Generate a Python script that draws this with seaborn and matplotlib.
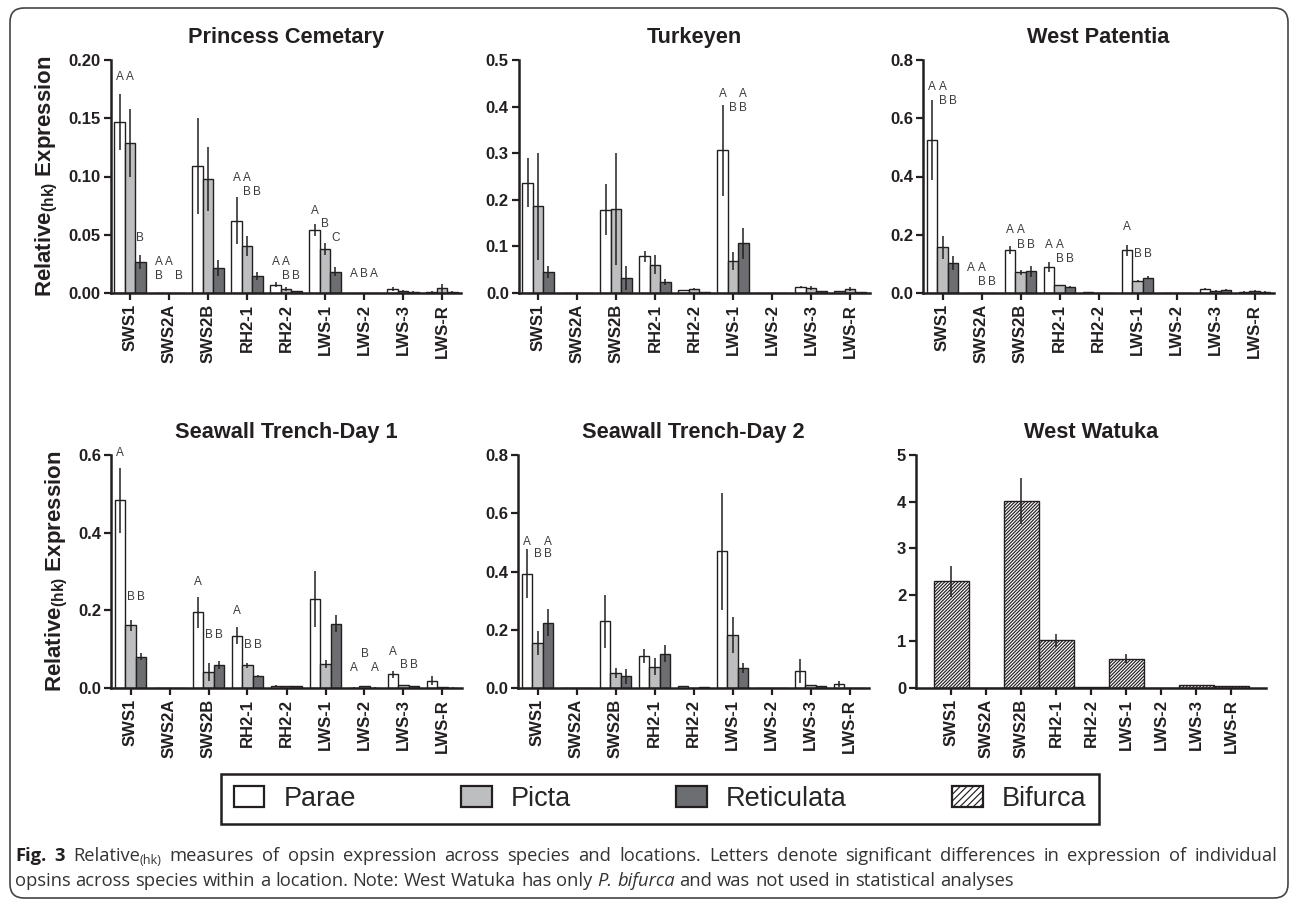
import numpy as np
import pandas as pd
import seaborn as sns
import matplotlib.pyplot as plt
from matplotlib.patches import Patch, FancyBboxPatch
from matplotlib.transforms import IdentityTransform

genes = ["SWS1", "SWS2A", "SWS2B", "RH2-1", "RH2-2", "LWS-1", "LWS-2", "LWS-3", "LWS-R"]
species = ["Parae", "Picta", "Reticulata"]

# rows: Parae, Picta, Reticulata  (mean and SE)
princess_mean = [
    [0.147, 0.0, 0.109, 0.062, 0.0071, 0.054, 0.0003, 0.0034, 0.0012],
    [0.129, 0.0, 0.098, 0.040, 0.0034, 0.0377, 0.0003, 0.0020, 0.0040],
    [0.0266, 0.0, 0.0217, 0.0143, 0.0014, 0.0183, 0.0003, 0.0009, 0.0010],
]
princess_err = [
    [0.024, 0.0, 0.041, 0.020, 0.0023, 0.005, 0.0, 0.0015, 0.0005],
    [0.029, 0.0, 0.0275, 0.0086, 0.0017, 0.005, 0.0, 0.0010, 0.0037],
    [0.0057, 0.0, 0.0069, 0.0035, 0.0005, 0.004, 0.0, 0.0005, 0.0005],
]
turkeyen_mean = [
    [0.237, 0.0, 0.179, 0.079, 0.0057, 0.306, 0.0, 0.012, 0.0035],
    [0.186, 0.0, 0.180, 0.061, 0.0086, 0.068, 0.0, 0.011, 0.0086],
    [0.045, 0.0, 0.032, 0.023, 0.0015, 0.107, 0.0, 0.0035, 0.0014],
]
turkeyen_err = [
    [0.053, 0.0, 0.055, 0.012, 0.001, 0.097, 0.0, 0.002, 0.001],
    [0.115, 0.0, 0.120, 0.020, 0.003, 0.019, 0.0, 0.004, 0.004],
    [0.013, 0.0, 0.025, 0.006, 0.0005, 0.033, 0.0, 0.001, 0.0005],
]
patentia_mean = [
    [0.525, 0.0, 0.149, 0.089, 0.002, 0.146, 0.0, 0.0137, 0.0046],
    [0.157, 0.0, 0.071, 0.026, 0.0, 0.042, 0.0, 0.008, 0.0069],
    [0.103, 0.0, 0.074, 0.0206, 0.0, 0.0526, 0.0, 0.010, 0.0046],
]
patentia_err = [
    [0.136, 0.0, 0.014, 0.018, 0.0005, 0.018, 0.0, 0.002, 0.001],
    [0.040, 0.0, 0.008, 0.002, 0.0, 0.004, 0.0, 0.001, 0.002],
    [0.025, 0.0, 0.019, 0.003, 0.0, 0.005, 0.0, 0.003, 0.001],
]
day1_mean = [
    [0.483, 0.0, 0.195, 0.135, 0.006, 0.229, 0.001, 0.036, 0.019],
    [0.161, 0.0, 0.041, 0.058, 0.005, 0.062, 0.004, 0.007, 0.002],
    [0.081, 0.0, 0.060, 0.032, 0.004, 0.165, 0.001, 0.005, 0.001],
]
day1_err = [
    [0.083, 0.0, 0.040, 0.021, 0.001, 0.072, 0.0005, 0.009, 0.012],
    [0.015, 0.0, 0.023, 0.006, 0.001, 0.010, 0.002, 0.001, 0.001],
    [0.010, 0.0, 0.010, 0.002, 0.001, 0.022, 0.0005, 0.001, 0.0005],
]
day2_mean = [
    [0.393, 0.0, 0.229, 0.111, 0.0057, 0.469, 0.0, 0.059, 0.0137],
    [0.155, 0.0, 0.051, 0.073, 0.001, 0.182, 0.0, 0.010, 0.001],
    [0.224, 0.0, 0.040, 0.117, 0.002, 0.069, 0.0, 0.0057, 0.0005],
]
day2_err = [
    [0.085, 0.0, 0.092, 0.024, 0.001, 0.202, 0.0, 0.041, 0.009],
    [0.042, 0.0, 0.018, 0.030, 0.0005, 0.062, 0.0, 0.002, 0.0005],
    [0.047, 0.0, 0.025, 0.029, 0.0005, 0.017, 0.0, 0.001, 0.0003],
]
bifurca_mean = [2.29, 0.0, 4.02, 1.02, 0.02, 0.63, 0.0, 0.057, 0.036]
bifurca_err = [0.33, 0.0, 0.49, 0.14, 0.005, 0.10, 0.0, 0.01, 0.005]

# significance letters: (gene, one char per species, height)
princess_letters = [
    ("SWS1", "AA ", 0.185), ("SWS1", "  B", 0.047),
    ("SWS2A", "AA ", 0.0266), ("SWS2A", "B B", 0.015),
    ("RH2-1", "AA ", 0.0986), ("RH2-1", " BB", 0.0866),
    ("RH2-2", "AA ", 0.0266), ("RH2-2", " BB", 0.015),
    ("LWS-1", "A  ", 0.0706), ("LWS-1", " B ", 0.0594), ("LWS-1", "  C", 0.047),
    ("LWS-2", "ABA", 0.0166),
]
turkeyen_letters = [("LWS-1", "A A", 0.426), ("LWS-1", " BB", 0.396)]
patentia_letters = [
    ("SWS1", "AA ", 0.706), ("SWS1", " BB", 0.659),
    ("SWS2A", "AA ", 0.0846), ("SWS2A", " BB", 0.0366),
    ("SWS2B", "AA ", 0.215), ("SWS2B", " BB", 0.166),
    ("RH2-1", "AA ", 0.166), ("RH2-1", " BB", 0.118),
    ("LWS-1", "A  ", 0.226), ("LWS-1", " BB", 0.135),
]
day1_letters = [
    ("SWS1", "A  ", 0.606), ("SWS1", " BB", 0.234),
    ("SWS2B", "A  ", 0.272), ("SWS2B", " BB", 0.137),
    ("RH2-1", "A  ", 0.197), ("RH2-1", " BB", 0.111),
    ("LWS-2", " B ", 0.088), ("LWS-2", "A A", 0.051),
    ("LWS-3", "A  ", 0.0926), ("LWS-3", " BB", 0.060),
]
day2_letters = [("SWS1", "A A", 0.503), ("SWS1", " BB", 0.460)]

sns.set_theme(style="ticks")
plt.rcParams["font.family"] = ["Liberation Sans", "DejaVu Sans"]
plt.rcParams["mathtext.fontset"] = "custom"
plt.rcParams["mathtext.rm"] = "Liberation Sans"
plt.rcParams["mathtext.bf"] = "Liberation Sans:bold"
plt.rcParams["hatch.linewidth"] = 0.85

INK = "#231f20"
palette = {"Parae": "white", "Picta": "#bcbec0", "Reticulata": "#6d6e71"}
HATCH = "//////////"

W, H = 1292, 899
fig = plt.figure(figsize=(W / 100, H / 100), dpi=100)


def px_axes(left, right, top, bottom):
    return fig.add_axes([left / W, 1 - bottom / H, (right - left) / W, (bottom - top) / H])


def style_axes(ax, title, ymax, step, fmt):
    ticks = np.arange(0, ymax + step / 2, step)
    ax.set_ylim(0, ymax)
    ax.set_yticks(ticks)
    ax.set_yticklabels([fmt.format(t) for t in ticks])
    ax.set_title(title, fontsize=15.7, fontweight="bold", color=INK, pad=12)
    ax.set_xlabel("")
    ax.set_ylabel("")
    sns.despine(ax=ax)
    for s in ("left", "bottom"):
        ax.spines[s].set_linewidth(1.8)
        ax.spines[s].set_color(INK)
    ax.tick_params(axis="both", direction="out", length=5, width=1.6, colors=INK)
    ax.tick_params(axis="x", labelrotation=90, labelsize=12, pad=3)
    ax.tick_params(axis="y", labelsize=12, pad=2)
    for lab in ax.get_xticklabels() + ax.get_yticklabels():
        lab.set_fontweight("bold")


def species_panel(ax, means, errs, letters):
    df = pd.DataFrame({
        "gene": np.tile(genes, len(species)),
        "species": np.repeat(species, len(genes)),
        "value": np.concatenate(means),
    })
    sns.barplot(data=df, x="gene", y="value", hue="species", order=genes,
                hue_order=species, palette=palette, saturation=1, errorbar=None,
                width=0.8, edgecolor=INK, linewidth=1.0, legend=False, ax=ax, zorder=2)
    centers = [[b.get_x() + b.get_width() / 2 for b in cont] for cont in ax.containers[:3]]
    for si in range(len(species)):
        ax.errorbar(centers[si], means[si], yerr=errs[si], fmt="none", ecolor=INK,
                    elinewidth=1.1, capsize=0, zorder=3)
    for gene, row, y in letters:
        gi = genes.index(gene)
        for si, ch in enumerate(row):
            if ch != " ":
                ax.text(centers[si][gi], y, ch, ha="center", va="center",
                        fontsize=8.5, color="#3a3a3a", clip_on=False)
    ax.set_xlim(-0.5, len(genes) - 0.5)


ylab = r"Relative$_{\mathbf{(hk)}}$ Expression"

ax1 = px_axes(110.5, 461.5, 60, 293)
species_panel(ax1, princess_mean, princess_err, princess_letters)
style_axes(ax1, "Princess Cemetary", 0.20, 0.05, "{:.2f}")
ax1.set_ylabel(ylab, fontsize=16, fontweight="bold", color=INK, labelpad=6)

ax2 = px_axes(518.5, 869.5, 60, 293)
species_panel(ax2, turkeyen_mean, turkeyen_err, turkeyen_letters)
style_axes(ax2, "Turkeyen", 0.5, 0.1, "{:.1f}")

ax3 = px_axes(923, 1274, 60, 293)
species_panel(ax3, patentia_mean, patentia_err, patentia_letters)
style_axes(ax3, "West Patentia", 0.8, 0.2, "{:.1f}")

ax4 = px_axes(111, 462, 455, 688)
species_panel(ax4, day1_mean, day1_err, day1_letters)
style_axes(ax4, "Seawall Trench-Day 1", 0.6, 0.2, "{:.1f}")
ax4.set_ylabel(ylab, fontsize=16, fontweight="bold", color=INK, labelpad=6)

ax5 = px_axes(518, 869, 455, 688)
species_panel(ax5, day2_mean, day2_err, day2_letters)
style_axes(ax5, "Seawall Trench-Day 2", 0.8, 0.2, "{:.1f}")

ax6 = px_axes(916, 1266, 455, 688)
df6 = pd.DataFrame({"gene": genes, "value": bifurca_mean})
sns.barplot(data=df6, x="gene", y="value", order=genes, color="white", saturation=1,
            errorbar=None, width=1.0, edgecolor=INK, linewidth=1.0, hatch=HATCH,
            ax=ax6, zorder=2)
c6 = [b.get_x() + b.get_width() / 2 for b in ax6.containers[0]]
ax6.errorbar(c6, bifurca_mean, yerr=bifurca_err, fmt="none", ecolor=INK,
             elinewidth=1.1, capsize=0, zorder=3)
ax6.set_xlim(-1, len(genes))
style_axes(ax6, "West Watuka", 5, 1, "{:.0f}")

# legend
handles = [
    Patch(facecolor="white", edgecolor=INK, linewidth=1.6),
    Patch(facecolor=palette["Picta"], edgecolor=INK, linewidth=1.6),
    Patch(facecolor=palette["Reticulata"], edgecolor=INK, linewidth=1.6),
    Patch(facecolor="white", edgecolor=INK, linewidth=1.6, hatch="/////"),
]
leg = fig.legend(handles, ["Parae", "Picta", "Reticulata", "Bifurca"], loc="center",
                 bbox_to_anchor=(660 / W, 1 - 799 / H), ncol=4, frameon=True,
                 fancybox=False, edgecolor=INK, framealpha=1,
                 prop={"family": "Liberation Sans", "size": 19.5},
                 handlelength=1.14, handleheight=0.77, columnspacing=3.88,
                 borderpad=0.45, handletextpad=0.7)
leg.get_frame().set_linewidth(1.8)

# outer rounded frame
frame = FancyBboxPatch((10, 1), 1278, 890, boxstyle="round,pad=0,rounding_size=14",
                       transform=IdentityTransform(), facecolor="none",
                       edgecolor="#444444", linewidth=1.2)
fig.patches.append(frame)

# caption (first line justified, second line natural)
renderer = fig.canvas.get_renderer()
CAP = ["Open Sans", "DejaVu Sans"]
CAP_SIZE = 13.2


def caption_line(y, tokens, x0=15.0, x1=None):
    drawn = []
    for txt, kw, glued in tokens:
        kw = dict(kw)
        dy = kw.pop("dy", 0)
        kw.setdefault("color", "#333333")
        kw.setdefault("fontsize", CAP_SIZE)
        t = fig.text(0, 1 - (y + dy) / H, txt, family=CAP, va="baseline", ha="left", **kw)
        drawn.append((t, t.get_window_extent(renderer).width, glued))
    probe = fig.text(0, 0, "n n", family=CAP, fontsize=CAP_SIZE)
    probe2 = fig.text(0, 0, "nn", family=CAP, fontsize=CAP_SIZE)
    space = probe.get_window_extent(renderer).width - probe2.get_window_extent(renderer).width
    probe.remove()
    probe2.remove()
    gaps = sum(1 for _, _, g in drawn[1:] if not g)
    if x1 is not None and gaps:
        space = max(space, (x1 - x0 - sum(w for _, w, _ in drawn)) / gaps)
    x = x0
    for i, (t, w, glued) in enumerate(drawn):
        if i > 0 and not glued:
            x += space
        t.set_x(x / W)
        x += w


def words(text, **kw):
    return [(w, kw, False) for w in text.split()]


line1 = ([("Fig.", {"fontweight": "bold", "color": "#231f20"}, False),
          ("3", {"fontweight": "bold", "color": "#231f20"}, False),
          ("Relative", {}, False),
          ("(hk)", {"fontsize": 9, "dy": 3}, True)]
         + words("measures of opsin expression across species and locations. Letters "
                 "denote significant differences in expression of individual"))
line2 = (words("opsins across species within a location. Note: West Watuka has only")
         + words("P. bifurca", style="italic")
         + words("and was not used in statistical analyses"))
caption_line(861, line1, x1=1277)
caption_line(886, line2)

fig.savefig("out.png", dpi=100)
